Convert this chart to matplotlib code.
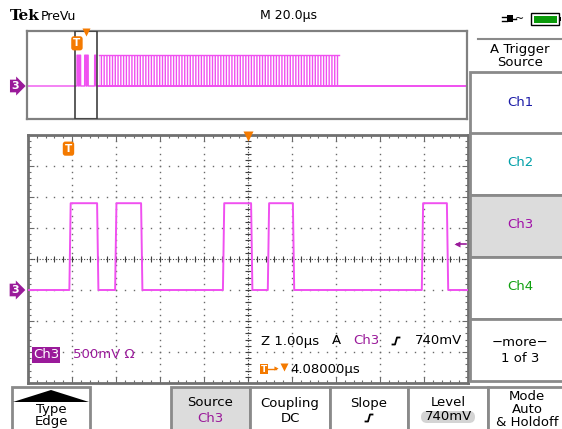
import numpy as np
import matplotlib.pyplot as plt
from matplotlib.patches import Rectangle, Polygon, FancyBboxPatch

# --- scope settings (Ch3, 500 mV/div, 1 us/div) ---
# edge times in us, relative to trigger point
main_edges_us = [0.02, 0.65, 1.06, 1.65, 3.51, 4.15, 4.53, 5.10, 8.03, 8.60]
LOW_V = 0.0
HIGH_V = 1.40
TRIG_LEVEL_V = 0.74
RISE_US = 0.03
main_xlim = (-0.92, 9.08)      # 10 div x 1 us
volt_lim = (-1.5, 2.5)         # 8 div x 500 mV
main_center_us = 4.08

# preview (whole record, 20 us/div)
preview_xlim = (-22.7, 177.3)
burst_start_us = 10.0
burst_end_us = 119.0

menu_labels = ['Ch1', 'Ch2', 'Ch3', 'Ch4']
menu_colors = ['#1c1ca8', '#00a0a8', '#a010a8', '#10a010']
button_labels = [('Type', 'Edge'), ('Source', 'Ch3'), ('Coupling', 'DC'),
                 ('Slope', ''), ('Level', '740mV'), ('Mode', 'Auto', '& Holdoff')]

TRACE = '#f050f0'
PURPLE = '#9a1a9a'
ORANGE = '#f47a00'
GRID = '#6a6a6a'
BORDER = '#8a8a8a'
FS = 9.5


def square_wave(edges, t_start, t_stop):
    t = [t_start]
    v = [LOW_V]
    level = LOW_V
    for e in edges:
        nxt = HIGH_V if level == LOW_V else LOW_V
        t += [e, e + RISE_US]
        v += [level, nxt]
        level = nxt
    t.append(t_stop)
    v.append(level)
    return t, v


fig = plt.figure(figsize=(5.62, 4.29), dpi=100)
W, H = 562.0, 429.0

# ---------------- main graticule ----------------
ax = fig.add_axes([28 / W, 1 - 383 / H, 440 / W, 248 / H])
ax.set_xlim(*main_xlim)
ax.set_ylim(*volt_lim)
xmaj = main_xlim[0] + np.arange(0, 11) * 1.0
xmin = main_xlim[0] + np.arange(0, 51) * 0.2
ymaj = volt_lim[0] + np.arange(0, 9) * 0.5
ymin = volt_lim[0] + np.arange(0, 41) * 0.1
ax.set_xticks(xmaj)
ax.set_xticks(xmin, minor=True)
ax.set_yticks(ymaj)
ax.set_yticks(ymin, minor=True)
ax.tick_params(which='both', direction='in', top=True, right=True,
               labelbottom=False, labelleft=False, color=GRID)
ax.tick_params(which='major', length=4, width=0.8)
ax.tick_params(which='minor', length=2.5, width=0.8)
for s in ax.spines.values():
    s.set_color('#707070')
    s.set_linewidth(2)

# dotted grid (dots every 1/5 division)
for x in xmaj[1:-1]:
    ax.plot(np.full(len(ymin), x), ymin, ls='none', marker='s', ms=1.0, color=GRID, mew=0)
for y in ymaj[1:-1]:
    ax.plot(xmin, np.full(len(xmin), y), ls='none', marker='s', ms=1.0, color=GRID, mew=0)
# centre cross with tick marks
ycen = volt_lim[0] + 4 * 0.5
ax.axvline(main_center_us, color='#404040', lw=0.8, ls=(0, (1, 1.5)))
ax.axhline(ycen, color='#404040', lw=0.8, ls=(0, (1, 1.5)))
ax.plot(np.full(len(ymin), main_center_us), ymin, ls='none', marker='_', ms=4, color='#404040', mew=0.8)
ax.plot(xmin, np.full(len(xmin), ycen), ls='none', marker='|', ms=4, color='#404040', mew=0.8)

t, v = square_wave(main_edges_us, main_xlim[0], main_xlim[1])
ax.plot(t, v, color=TRACE, lw=1.4, zorder=5)

# markers
ax.text(0, 0.945, 'T', transform=ax.get_xaxis_transform(), ha='center', va='center',
        color='white', fontsize=7.5, fontweight='bold',
        bbox=dict(boxstyle='round,pad=0.2,rounding_size=0.25', fc=ORANGE, ec='none'))
ax.plot([main_center_us], [0.995], transform=ax.get_xaxis_transform(), marker='v',
        ms=7, color=ORANGE, mec='none', clip_on=False, zorder=6)
ax.text(-0.03, LOW_V, '3', transform=ax.get_yaxis_transform(), ha='center', va='center',
        color='white', fontsize=8, fontweight='bold', clip_on=False,
        bbox=dict(boxstyle='rarrow,pad=0.12', fc=PURPLE, ec='none'))
ax.plot([0.975], [TRIG_LEVEL_V], transform=ax.get_yaxis_transform(), marker='<',
        ms=5, color=PURPLE, mec='none', zorder=6)
ax.plot([0.975, 0.995], [TRIG_LEVEL_V, TRIG_LEVEL_V], transform=ax.get_yaxis_transform(),
        color=PURPLE, lw=1.2, zorder=6)

# ---------------- preview strip ----------------
pv = fig.add_axes([27 / W, 1 - 119 / H, 440 / W, 88 / H])
pv.set_xlim(*preview_xlim)
pv.set_ylim(*volt_lim)
pv.set_xticks([])
pv.set_yticks([])
for s in pv.spines.values():
    s.set_color('#808080')
    s.set_linewidth(1.6)
pt, pvv = square_wave(main_edges_us, preview_xlim[0], burst_start_us)
pv.plot(pt, pvv, color=TRACE, lw=1.0)
pv.add_patch(Rectangle((burst_start_us, LOW_V), burst_end_us - burst_start_us, HIGH_V - LOW_V,
                       fill=False, hatch='||||||', ec=TRACE, lw=0))
pv.plot([burst_start_us, burst_end_us], [HIGH_V, HIGH_V], color=TRACE, lw=1)
pv.plot([burst_start_us, preview_xlim[1]], [LOW_V, LOW_V], color=TRACE, lw=1.4)
pv.add_patch(Rectangle((main_xlim[0], volt_lim[0]), main_xlim[1] - main_xlim[0],
                       volt_lim[1] - volt_lim[0], fill=False, ec='#404040', lw=1.2, zorder=6))
pv.text(0, 0.86, 'T', transform=pv.get_xaxis_transform(), ha='center', va='center',
        color='white', fontsize=7.5, fontweight='bold', zorder=7,
        bbox=dict(boxstyle='round,pad=0.2,rounding_size=0.25', fc=ORANGE, ec='none'))
pv.plot([main_center_us], [0.985], transform=pv.get_xaxis_transform(), marker='v',
        ms=6, color=ORANGE, mec='none', clip_on=False, zorder=7)
pv.text(-0.027, LOW_V, '3', transform=pv.get_yaxis_transform(), ha='center', va='center',
        color='white', fontsize=8, fontweight='bold', clip_on=False,
        bbox=dict(boxstyle='rarrow,pad=0.12', fc=PURPLE, ec='none'))

# ---------------- screen chrome (pixel coords) ----------------
ov = fig.add_axes([0, 0, 1, 1], zorder=10)
ov.set_xlim(0, W)
ov.set_ylim(H, 0)
ov.axis('off')
ov.patch.set_visible(False)

ov.text(10, 16, 'Tek', fontsize=11, fontweight='bold', family='DejaVu Serif', va='center')
ov.text(41, 16, 'PreVu', fontsize=FS - 0.5, va='center')
ov.text(288, 16, 'M 20.0µs', fontsize=FS - 0.5, va='center', ha='center')

# power plug + battery
ov.add_patch(Rectangle((507, 15), 6, 7, fc='black', ec='none'))
ov.plot([502, 507], [16.5, 16.5], color='black', lw=1)
ov.plot([502, 507], [20.5, 20.5], color='black', lw=1)
ov.plot([513, 516], [18.5, 18.5], color='black', lw=1)
ov.text(520, 18.5, '~', fontsize=8, va='center', ha='center')
ov.add_patch(Rectangle((531, 13), 28, 12, fc='white', ec='black', lw=1))
ov.add_patch(Rectangle((533.5, 15.5), 23, 7, fc='#0a9a0a', ec='none'))
ov.add_patch(Rectangle((559, 17), 2, 4, fc='black', ec='none'))

# side menu
ov.plot([478, 562], [39, 39], color=BORDER, lw=1.5)
ov.text(520, 49, 'A Trigger', fontsize=FS, ha='center', va='center')
ov.text(520, 63, 'Source', fontsize=FS, ha='center', va='center')
box_tops = [72, 133, 195, 257, 319]
for i, top in enumerate(box_tops):
    fc = '#dcdcdc' if i == 2 else 'white'
    ov.add_patch(Rectangle((470, top), 95, 62, fc=fc, ec=BORDER, lw=2))
    if i < 4:
        ov.text(520, top + 30, menu_labels[i], color=menu_colors[i], fontsize=FS,
                ha='center', va='center')
ov.text(520, 343, '\u2212more\u2212', fontsize=FS, ha='center', va='center')
ov.text(520, 358, '1 of 3', fontsize=FS, ha='center', va='center')


def slope_glyph(x, y, s=3.5):
    ov.plot([x - s, x - 1, x + 1, x + s], [y + s, y + s, y - s, y - s], color='black', lw=1.3)


# bottom buttons
btn_x = [(12, 90), (171, 250), (250, 330), (330, 408), (408, 488), (488, 566)]
for i, (x0, x1) in enumerate(btn_x):
    fc = '#dcdcdc' if i == 1 else 'white'
    ov.add_patch(Rectangle((x0, 387), x1 - x0, 46, fc=fc, ec=BORDER, lw=2))
    xc = (x0 + x1) / 2
    lab = button_labels[i]
    if i == 0:
        ov.add_patch(Polygon([[x0 + 1, 402], [xc, 390], [x1 - 1, 402]], closed=True,
                             fc='black', ec='none'))
        ov.text(xc, 410, lab[0], fontsize=FS, ha='center', va='center')
        ov.text(xc, 422, lab[1], fontsize=FS, ha='center', va='center')
    elif i == 5:
        for j, s in enumerate(lab):
            ov.text(xc, 396 + 13.5 * j, s, fontsize=FS, ha='center', va='center')
    else:
        ov.text(xc, 403, lab[0], fontsize=FS, ha='center', va='center')
        if i == 3:
            slope_glyph(xc, 418)
        elif i == 4:
            ov.add_patch(FancyBboxPatch((xc - 27, 411), 54, 12,
                                        boxstyle='round,pad=0,rounding_size=6',
                                        fc='#d4d4d4', ec='none'))
            ov.text(xc, 417, lab[1], fontsize=FS, ha='center', va='center')
        else:
            ov.text(xc, 418, lab[1], fontsize=FS, ha='center', va='center',
                    color=PURPLE if i == 1 else 'black')

# readouts inside the graticule
ov.text(46, 355, 'Ch3', color='white', fontsize=FS, ha='center', va='center',
        bbox=dict(boxstyle='square,pad=0.08', fc=PURPLE, ec='none'))
ov.text(73, 355, '500mV \u03a9', color=PURPLE, fontsize=FS, ha='left', va='center')
ov.text(261, 341, 'Z 1.00µs', fontsize=FS, ha='left', va='center')
ov.text(332, 341, 'A', fontsize=FS, ha='left', va='center')
ov.text(353, 341, 'Ch3', color=PURPLE, fontsize=FS, ha='left', va='center')
slope_glyph(396, 341)
ov.text(462, 341, '740mV', fontsize=FS, ha='right', va='center')
ov.add_patch(Rectangle((260, 364), 8, 10, fc=ORANGE, ec='none'))
ov.text(264, 369, 'T', color='white', fontsize=6.5, fontweight='bold', ha='center', va='center')
ov.plot([268, 276], [369, 369], color=ORANGE, lw=1)
ov.plot([276], [368], marker='>', ms=3, color=ORANGE, mec='none')
ov.plot([284], [367], marker='v', ms=6, color=ORANGE, mec='none')
ov.text(290, 369, '4.08000µs', fontsize=FS, ha='left', va='center')

fig.savefig('out.png', dpi=100)
